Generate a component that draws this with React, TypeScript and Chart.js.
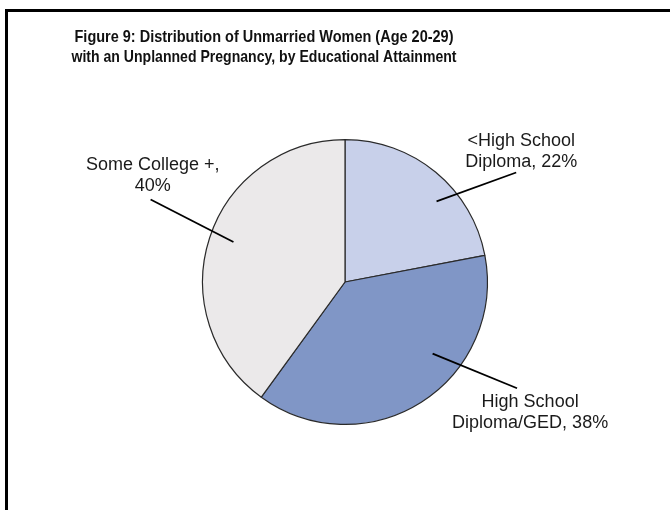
import React, { useEffect, useRef } from "react";
import { Chart, registerables } from "chart.js";

Chart.register(...registerables);

const categories = ["<High School Diploma", "High School Diploma/GED", "Some College +"];
const values = [22, 38, 40];
const labelLines = [
  ["<High School", `Diploma, ${values[0]}%`],
  ["High School", `Diploma/GED, ${values[1]}%`],
  ["Some College +,", `${values[2]}%`],
];
const titleLines = [
  "Figure 9: Distribution of Unmarried Women (Age 20-29)",
  "with an Unplanned Pregnancy, by Educational Attainment",
];
const titleWidths = [379, 385];
const colors = ["#c8d0ea", "#8096c6", "#ebe9ea"];

// label annotation geometry, relative to the pie (angles in degrees from 12 o'clock, radii as fraction of R)
const labelGeom = [
  { inA: 48.6, inR: 0.857, outA: 57.4, outR: 1.427, tx: 1.238, ty: -0.958 },
  { inA: 129.3, inR: 0.795, outA: 121.7, outR: 1.42, tx: 1.3, ty: 0.881 },
  { inA: 289.7, inR: 0.832, outA: 293.0, outR: 1.483, tx: -1.35, ty: -0.79 },
];

const decorPlugin = {
  id: "decor",
  beforeDraw(chart: any) {
    const ctx = chart.ctx;
    ctx.save();
    ctx.fillStyle = "#ffffff";
    ctx.fillRect(0, 0, chart.width, chart.height);
    ctx.fillStyle = "#000000";
    ctx.fillRect(5, 9, chart.width - 5, 3);
    ctx.fillRect(5, 9, 3, chart.height - 9);
    ctx.restore();
  },
  afterDraw(chart: any) {
    const ctx = chart.ctx;
    const meta = chart.getDatasetMeta(0);
    const arc = meta.data[0];
    const cx = arc.x;
    const cy = arc.y;
    const R = arc.outerRadius;
    ctx.save();
    // title
    ctx.fillStyle = "#111111";
    ctx.textAlign = "center";
    ctx.textBaseline = "alphabetic";
    ctx.font = "bold 17px 'Liberation Sans', Arial, sans-serif";
    const titleX = 264;
    titleLines.forEach((t, i) => {
      const w = ctx.measureText(t).width;
      const s = Math.min(1, titleWidths[i] / w);
      ctx.save();
      ctx.translate(titleX, 42 + i * 19.5);
      ctx.scale(s, 1);
      ctx.fillText(t, 0, 0);
      ctx.restore();
    });
    // labels + leaders
    const pt = (a: number, r: number) => {
      const rad = (a * Math.PI) / 180;
      return [cx + Math.sin(rad) * r * R, cy - Math.cos(rad) * r * R];
    };
    ctx.strokeStyle = "#000000";
    ctx.lineWidth = 1.8;
    ctx.font = "18px 'Liberation Sans', Arial, sans-serif";
    ctx.fillStyle = "#1a1a1a";
    labelGeom.forEach((g, i) => {
      const [x1, y1] = pt(g.inA, g.inR);
      const [x2, y2] = pt(g.outA, g.outR);
      ctx.beginPath();
      ctx.moveTo(x1, y1);
      ctx.lineTo(x2, y2);
      ctx.stroke();
      const tx = cx + g.tx * R;
      const ty = cy + g.ty * R;
      labelLines[i].forEach((l, j) => {
        ctx.fillText(l, tx, ty + j * 21);
      });
    });
    ctx.restore();
  },
};

export default function App() {
  const ref = useRef<HTMLCanvasElement | null>(null);
  useEffect(() => {
    if (!ref.current) return;
    const chart = new Chart(ref.current, {
      type: "pie",
      data: {
        labels: categories,
        datasets: [
          {
            data: values,
            backgroundColor: colors,
            borderColor: "#2a2a2a",
            borderWidth: 1.2,
          },
        ],
      },
      options: {
        responsive: false,
        animation: false,
        layout: { padding: { left: 202, right: 182, top: 139, bottom: 85 } },
        plugins: {
          legend: { display: false },
          tooltip: { enabled: false },
          title: { display: false },
        },
      },
      plugins: [decorPlugin],
    });
    return () => chart.destroy();
  }, []);
  return (
    <div style={{ position: "absolute", left: 0, top: 0, width: 670, height: 510, background: "#fff" }}>
      <canvas ref={ref} width={670} height={510} style={{ width: 670, height: 510, display: "block" }} />
    </div>
  );
}
